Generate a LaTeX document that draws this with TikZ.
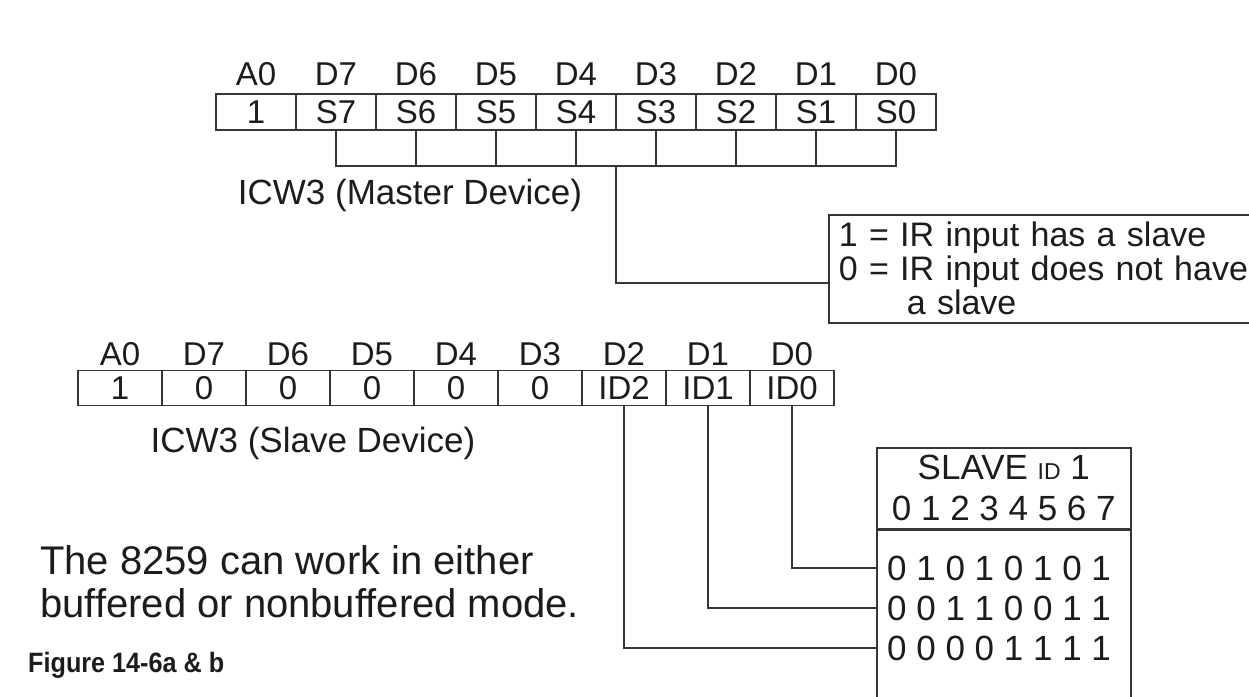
\documentclass[tikz,border=0pt]{standalone}
\usepackage{fontspec}
\setmainfont{Liberation Sans}
\usepackage{graphicx}
\usepackage{xcolor}
\usetikzlibrary{positioning, calc}

\definecolor{linegray}{HTML}{363636}
\definecolor{inkgray}{HTML}{1C1C1C}
\newcommand{\bitfont}{\fontsize{33}{40}\selectfont}
\newcommand{\notefont}{\fontsize{35}{41}\selectfont}
\newcommand{\infofont}{\fontsize{34}{34}\selectfont}
\newcommand{\bodyfont}{\fontsize{40}{43}\selectfont}
\newcommand{\figcapfont}{\fontsize{28}{30}\selectfont\bfseries}

\begin{document}
\begin{tikzpicture}[x=1pt, y=-1pt, node distance=8pt, text=inkgray,
    mcell/.style={rectangle, draw=linegray, line width=1.6pt, minimum width=80pt, minimum height=36pt, inner sep=0pt, outer sep=0pt, font=\bitfont},
    scell/.style={mcell, minimum width=84pt, minimum height=35pt},
    bitlbl/.style={inner sep=0pt, text height=24pt, text depth=0pt, font=\bitfont},
    wire/.style={draw=linegray, line width=1.6pt}]

    \useasboundingbox (0,0) rectangle (1249,696);
    \clip (0,0) rectangle (1249,696);

    % ICW3 master register
    \node[mcell] (m0) at (256,112) {1};
    \node[mcell, right=0pt of m0] (ms7) {S7};
    \node[mcell, right=0pt of ms7] (ms6) {S6};
    \node[mcell, right=0pt of ms6] (ms5) {S5};
    \node[mcell, right=0pt of ms5] (ms4) {S4};
    \node[mcell, right=0pt of ms4] (ms3) {S3};
    \node[mcell, right=0pt of ms3] (ms2) {S2};
    \node[mcell, right=0pt of ms2] (ms1) {S1};
    \node[mcell, right=0pt of ms1] (ms0) {S0};

    % Bit labels (master)
    \node[bitlbl, above=of m0] (ma0) {A0};
    \node[bitlbl, above=of ms7] (md7) {D7};
    \node[bitlbl, above=of ms6] (md6) {D6};
    \node[bitlbl, above=of ms5] (md5) {D5};
    \node[bitlbl, above=of ms4] (md4) {D4};
    \node[bitlbl, above=of ms3] (md3) {D3};
    \node[bitlbl, above=of ms2] (md2) {D2};
    \node[bitlbl, above=of ms1] (md1) {D1};
    \node[bitlbl, above=of ms0] (md0) {D0};

    \node[font=\notefont, inner sep=0pt] (mcap) at (410,195) {ICW3 (Master Device)};

    % Meaning of the S bits
    \node[draw=linegray, line width=1.6pt, anchor=north west, text width=440pt, minimum height=108pt,
          inner xsep=10pt, inner ysep=0pt, align=left, font=\infofont] (info) at (828,214)
          {1 = IR input has a slave\\0 = IR input does not have\\\hspace*{68pt}a slave};

    % Bracket under S7..S0
    \coordinate (mbar) at (0,166);
    \draw[wire] (ms7.south) -- (ms7.south |- mbar) -- (ms0.south |- mbar) -- (ms0.south);
    \draw[wire] (ms6.south) -- (ms6.south |- mbar);
    \draw[wire] (ms5.south) -- (ms5.south |- mbar);
    \draw[wire] (ms4.south) -- (ms4.south |- mbar);
    \draw[wire] (ms3.south) -- (ms3.south |- mbar);
    \draw[wire] (ms2.south) -- (ms2.south |- mbar);
    \draw[wire] (ms1.south) -- (ms1.south |- mbar);
    \coordinate (mdrop) at ($(ms4.south |- mbar)!0.5!(ms3.south |- mbar)$);
    \draw[wire] (mdrop) |- ([yshift=-14pt]info.west);

    % ICW3 slave register
    \node[scell] (s0) at (120,388) {1};
    \node[scell, right=0pt of s0] (s7) {0};
    \node[scell, right=0pt of s7] (s6) {0};
    \node[scell, right=0pt of s6] (s5) {0};
    \node[scell, right=0pt of s5] (s4) {0};
    \node[scell, right=0pt of s4] (s3) {0};
    \node[scell, right=0pt of s3] (sid2) {ID2};
    \node[scell, right=0pt of sid2] (sid1) {ID1};
    \node[scell, right=0pt of sid1] (sid0) {ID0};

    % Bit labels (slave)
    \node[bitlbl, above=5pt of s0] (sa0) {A0};
    \node[bitlbl, above=5pt of s7] (sd7) {D7};
    \node[bitlbl, above=5pt of s6] (sd6) {D6};
    \node[bitlbl, above=5pt of s5] (sd5) {D5};
    \node[bitlbl, above=5pt of s4] (sd4) {D4};
    \node[bitlbl, above=5pt of s3] (sd3) {D3};
    \node[bitlbl, above=5pt of sid2] (sd2) {D2};
    \node[bitlbl, above=5pt of sid1] (sd1) {D1};
    \node[bitlbl, above=5pt of sid0] (sd0) {D0};

    \node[font=\notefont, inner sep=0pt] (scap) at (313,443) {ICW3 (Slave Device)};

    % Slave ID table
    \node[draw=linegray, line width=1.6pt, anchor=north west, minimum width=254pt, minimum height=81pt,
          inner sep=0pt, align=center, font=\notefont] (shead) at (876,447)
          {SLAVE {\fontsize{23}{23}\selectfont ID} 1\\0 1 2 3 4 5 6 7};
    \node[draw=linegray, line width=1.6pt, anchor=north, minimum width=254pt, minimum height=200pt,
          inner sep=0pt] (sbody) at (shead.south) {};
    \node[font=\notefont, anchor=west, inner xsep=11pt, inner ysep=0pt] (srow1) at (876,568) {0 1 0 1 0 1 0 1};
    \node[font=\notefont, anchor=west, inner xsep=11pt, inner ysep=0pt] (srow2) at (876,608) {0 0 1 1 0 0 1 1};
    \node[font=\notefont, anchor=west, inner xsep=11pt, inner ysep=0pt] (srow3) at (876,648) {0 0 0 0 1 1 1 1};

    % ID bits to table rows
    \draw[wire] (sid0.south) |- (srow1.west);
    \draw[wire] (sid1.south) |- (srow2.west);
    \draw[wire] (sid2.south) |- (srow3.west);

    % Note and caption
    \node[font=\bodyfont, align=left, anchor=west, inner sep=0pt] (mode) at (40,582)
          {The 8259 can work in either\\buffered or nonbuffered mode.};
    \node[font=\figcapfont, anchor=west, inner sep=0pt] (figcap) at (28,665) {\scalebox{0.9}[1]{Figure 14-6a \& b}};
\end{tikzpicture}
\end{document}
